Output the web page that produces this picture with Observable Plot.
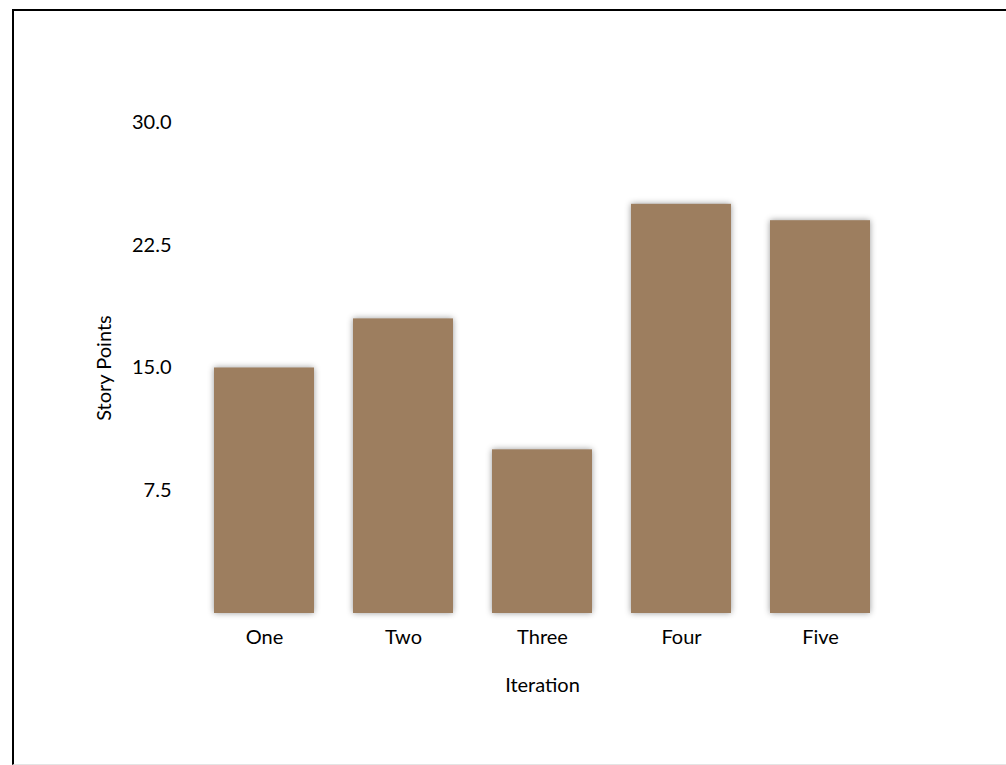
<!DOCTYPE html>
<html>
<head>
<meta charset="utf-8">
<script src="https://cdn.jsdelivr.net/npm/d3@7"></script>
<script src="https://cdn.jsdelivr.net/npm/@observablehq/plot@0.6"></script>
<style>
  html, body { margin: 0; padding: 0; background: #fff; overflow: hidden; }
  body { width: 1006px; height: 765px; position: relative; }
  #frame { position: absolute; left: 12px; top: 9px; width: 994px; height: 753px;
           border-left: 2px solid #000; border-top: 2px solid #000;
           border-bottom: 1px solid #e4e4e4; }
  #chart { position: absolute; left: 0; top: 0; }
  #chart g[aria-label="bar"] rect { filter: drop-shadow(0 0 3px rgba(0,0,0,0.4)); }
</style>
</head>
<body>
<div id="frame"></div>
<div id="chart"></div>
<script>
const iterations = ["One", "Two", "Three", "Four", "Five"];
const storyPoints = [15, 18, 10, 25, 24];
const yTicks = [7.5, 15, 22.5, 30];

const data = iterations.map((it, i) => ({iteration: it, points: storyPoints[i]}));

const chart = Plot.plot({
  width: 1006,
  height: 765,
  marginLeft: 174,
  marginRight: 96,
  marginTop: 122,
  marginBottom: 152,
  style: {fontFamily: "Lato, sans-serif", fontSize: "20px", color: "#000", background: "transparent"},
  x: {domain: iterations, padding: 0.28},
  y: {domain: [0, 30]},
  marks: [
    Plot.barY(data, {x: "iteration", y: "points", fill: "#9d7e5f"}),
    Plot.axisY({ticks: yTicks, tickFormat: d3.format(".1f"), tickSize: 0, tickPadding: 3,
                label: "Story Points", labelAnchor: "center", labelArrow: "none", labelOffset: 78}),
    Plot.axisX({tickSize: 0, tickPadding: 16, label: "Iteration", labelAnchor: "center",
                labelArrow: "none", labelOffset: 78})
  ]
});
document.getElementById("chart").appendChild(chart);
</script>
</body>
</html>
